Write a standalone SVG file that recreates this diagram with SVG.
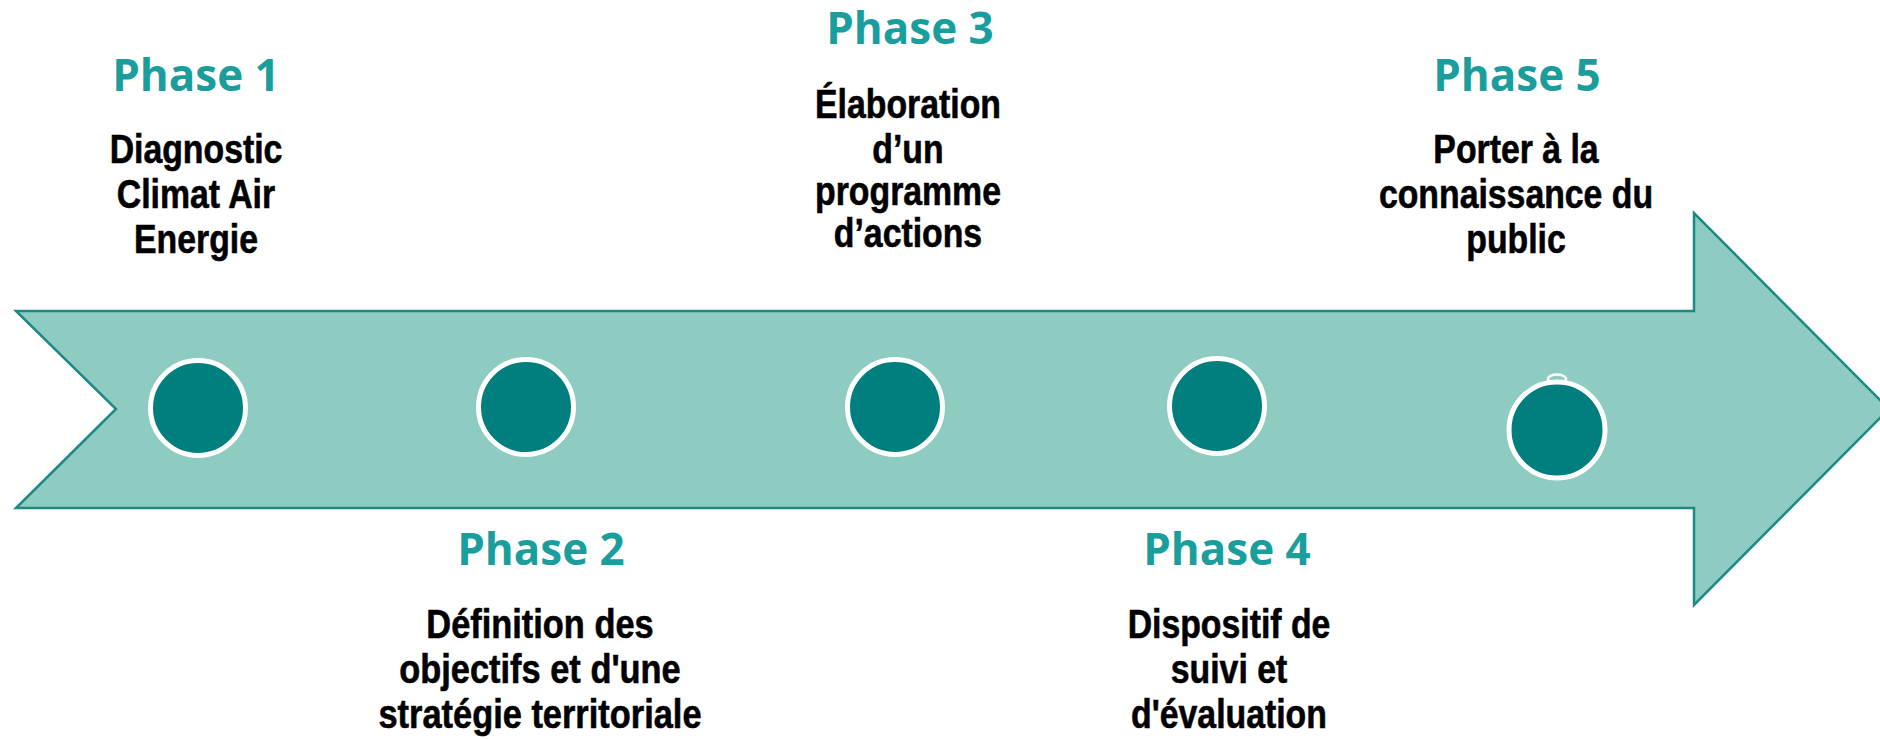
<svg xmlns="http://www.w3.org/2000/svg" width="1880" height="739" viewBox="0 0 1880 739">
<style>
.arrow{fill:#8ecbc1;stroke:#1b8a85;stroke-width:2.5;stroke-linejoin:miter}
.dot{fill:#007f7e;stroke:#ffffff;stroke-width:5}
.head{font-family:"Open Sans","Noto Sans",sans-serif;font-weight:700;font-size:44px;fill:#1a9e9d;text-anchor:middle}
.body{font-family:"Liberation Sans",Arial,sans-serif;font-weight:700;font-size:40px;fill:#000000;stroke:#000000;stroke-width:0.6;text-anchor:middle}
</style>
<rect width="1880" height="739" fill="#ffffff"/>
<g id="arrow">
<polygon class="arrow" points="16,311 1694,311 1694,213 1889,409 1694,605 1694,508 16,508 116,409"/>
</g>
<g id="connectors"></g>
<g id="dot1"><circle class="dot" cx="198" cy="408" r="47.5"/></g>
<g id="dot2"><circle class="dot" cx="526" cy="407" r="47.5"/></g>
<g id="dot3"><circle class="dot" cx="895" cy="407" r="47.5"/></g>
<g id="dot4"><circle class="dot" cx="1217" cy="406" r="47.5"/></g>
<g id="dot5">
<ellipse cx="1557" cy="379" rx="9" ry="4.5" fill="#8ecbc1" stroke="#ffffff" stroke-width="2.5"/>
<circle class="dot" cx="1557" cy="430" r="48"/>
</g>
<g id="phase1">
<text class="head" x="196" y="91">Phase 1</text>
<g transform="translate(196,0) scale(0.845,1)">
<text class="body" x="0" y="163">Diagnostic</text>
<text class="body" x="0" y="208">Climat Air</text>
<text class="body" x="0" y="253">Energie</text>
</g>
</g>
<g id="phase2">
<text class="head" x="541" y="565">Phase 2</text>
<g transform="translate(540,0) scale(0.86,1)">
<text class="body" x="0" y="638">Définition des</text>
<text class="body" x="0" y="683">objectifs et d'une</text>
<text class="body" x="0" y="728">stratégie territoriale</text>
</g>
</g>
<g id="phase3">
<text class="head" x="910" y="44">Phase 3</text>
<g transform="translate(908,0) scale(0.845,1)">
<text class="body" x="0" y="118">Élaboration</text>
<text class="body" x="0" y="163">d’un</text>
<text class="body" x="0" y="205">programme</text>
<text class="body" x="0" y="247">d’actions</text>
</g>
</g>
<g id="phase4">
<text class="head" x="1227" y="565">Phase 4</text>
<g transform="translate(1229,0) scale(0.845,1)">
<text class="body" x="0" y="638">Dispositif de</text>
<text class="body" x="0" y="683">suivi et</text>
<text class="body" x="0" y="728">d'évaluation</text>
</g>
</g>
<g id="phase5">
<text class="head" x="1517" y="91">Phase 5</text>
<g transform="translate(1516,0) scale(0.845,1)">
<text class="body" x="0" y="163">Porter à la</text>
<text class="body" x="0" y="208">connaissance du</text>
<text class="body" x="0" y="253">public</text>
</g>
</g>
</svg>
